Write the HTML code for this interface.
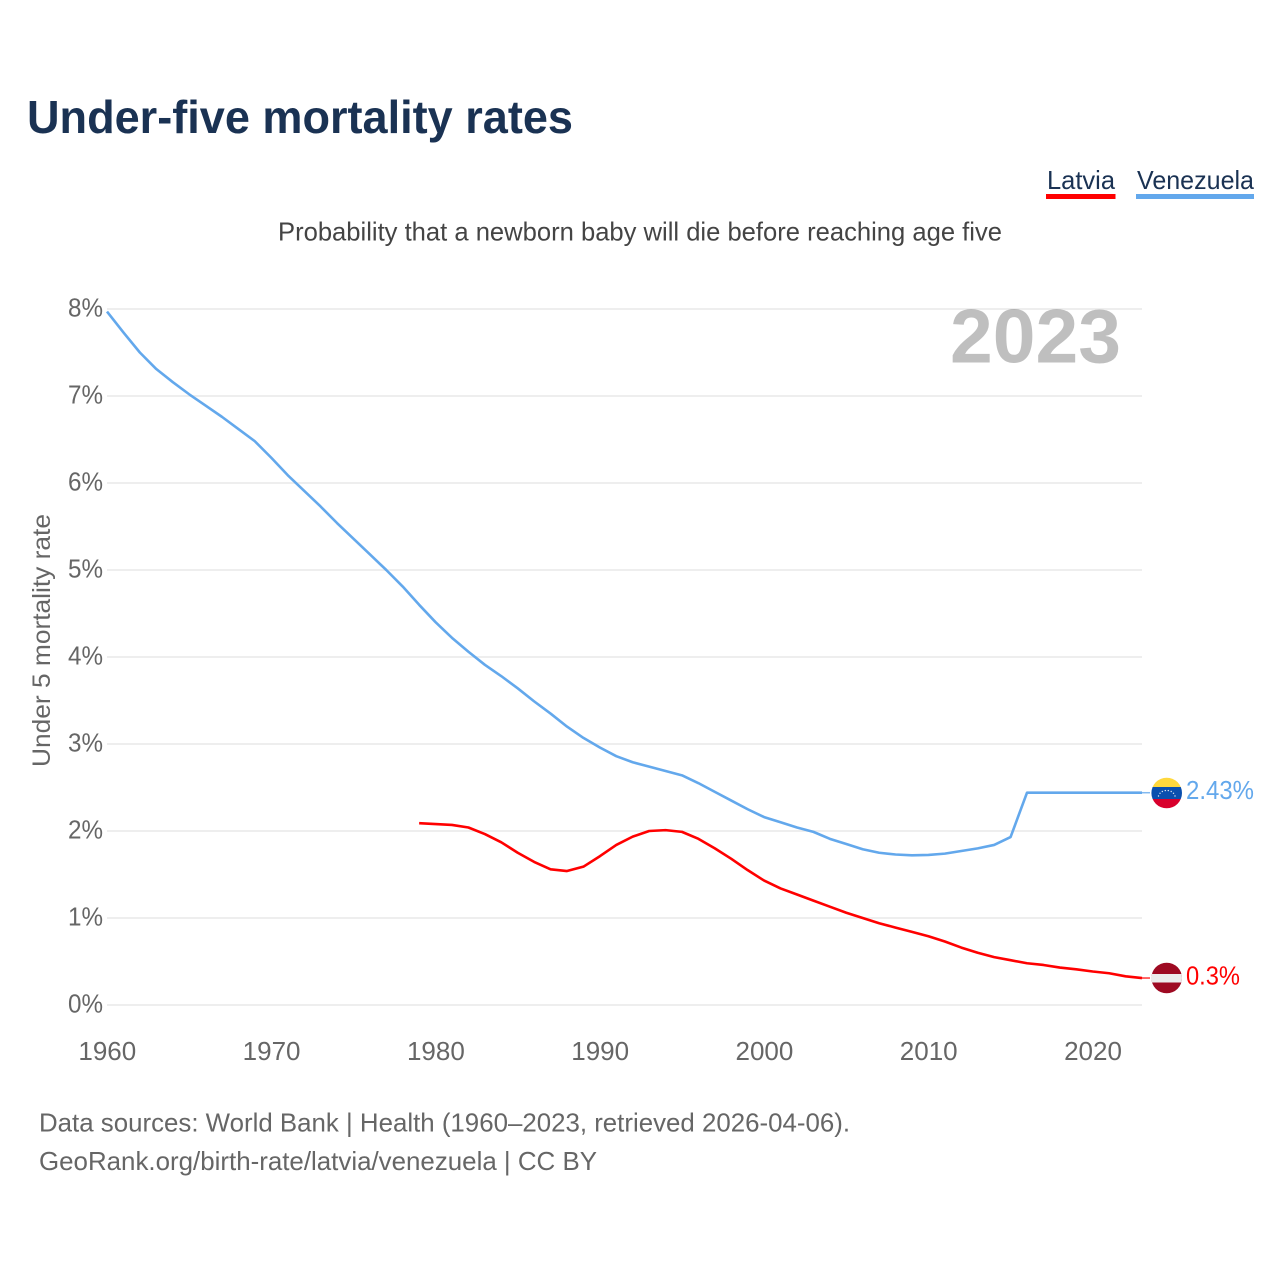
<!DOCTYPE html>
<html lang="en">
<head>
<meta charset="utf-8">
<title>Under-five mortality rates</title>
<style>
html,body{margin:0;padding:0;background:#fff;}
svg{display:block;font-family:"Liberation Sans",sans-serif;}
</style>
</head>
<body>
<svg id="chart" width="1280" height="1280" viewBox="0 0 1280 1280" xmlns="http://www.w3.org/2000/svg">
  <rect x="0" y="0" width="1280" height="1280" fill="#ffffff"/>
  <text x="27" y="133" font-size="46" font-weight="700" fill="#1a3253" textLength="546" lengthAdjust="spacingAndGlyphs">Under-five mortality rates</text>
  <text x="278" y="240.5" font-size="26" fill="#444444" textLength="724" lengthAdjust="spacingAndGlyphs">Probability that a newborn baby will die before reaching age five</text>

  <g>
    <g>
      <text x="1047" y="189" font-size="26" fill="#1a3253" textLength="68" lengthAdjust="spacingAndGlyphs">Latvia</text>
      <rect x="1046" y="194" width="69.5" height="5" fill="#ff0000"/>
    </g>
    <g>
      <text x="1137" y="189" font-size="26" fill="#1a3253" textLength="117" lengthAdjust="spacingAndGlyphs">Venezuela</text>
      <rect x="1136" y="194" width="118" height="5" fill="#63a8ec"/>
    </g>
  </g>

  <g id="grid"></g>
  <g id="yticks"></g>
  <g id="xticks"></g>

  <text transform="translate(50,767) rotate(-90)" x="0" y="0" font-size="25" fill="#666666" textLength="253" lengthAdjust="spacingAndGlyphs">Under 5 mortality rate</text>

  <text x="950" y="362.5" font-size="76" font-weight="700" fill="#000000" fill-opacity="0.25" textLength="171" lengthAdjust="spacingAndGlyphs">2023</text>

  <g id="series"></g>

  <defs>
    <clipPath id="clip-ve"><circle id="clip-ve-c" cx="1166.7" cy="793" r="15.3"/></clipPath>
    <clipPath id="clip-lv"><circle id="clip-lv-c" cx="1166.7" cy="978" r="15.3"/></clipPath>
  </defs>

  <g id="flag-ve" clip-path="url(#clip-ve)">
    <rect x="1150" y="776" width="34" height="11" fill="#ffd83d"/>
    <rect x="1150" y="787" width="34" height="12" fill="#0a4fae"/>
    <rect x="1150" y="799" width="34" height="11" fill="#d8002c"/>
    <g fill="#ffffff" fill-opacity="0.85">
      <circle cx="1158.5" cy="796" r="0.7"/><circle cx="1160" cy="793.3" r="0.7"/><circle cx="1162.3" cy="791.5" r="0.7"/><circle cx="1165.3" cy="790.6" r="0.7"/><circle cx="1168.3" cy="790.6" r="0.7"/><circle cx="1171.2" cy="791.5" r="0.7"/><circle cx="1173.5" cy="793.3" r="0.7"/><circle cx="1175" cy="796" r="0.7"/>
    </g>
  </g>
  <g id="flag-lv" clip-path="url(#clip-lv)">
    <rect x="1150" y="961" width="34" height="34" fill="#9e0a22"/>
    <rect x="1150" y="974" width="34" height="8.5" fill="#ececec"/>
  </g>

  <g id="endlabels"></g>

  <text x="39" y="1131.5" font-size="26" fill="#666666" textLength="811" lengthAdjust="spacingAndGlyphs">Data sources: World Bank | Health (1960–2023, retrieved 2026-04-06).</text>
  <text x="39" y="1170" font-size="26" fill="#666666" textLength="558" lengthAdjust="spacingAndGlyphs">GeoRank.org/birth-rate/latvia/venezuela | CC BY</text>
</svg>
<script>
const yTickValues = [0, 1, 2, 3, 4, 5, 6, 7, 8];
const yTickLabels = ['0%', '1%', '2%', '3%', '4%', '5%', '6%', '7%', '8%'];
const xTickYears = [1960, 1970, 1980, 1990, 2000, 2010, 2020];
const xTickLabels = ['1960', '1970', '1980', '1990', '2000', '2010', '2020'];
const latviaStartYear = 1979;
const latviaValues = [2.09, 2.08, 2.07, 2.04, 1.965, 1.87, 1.75, 1.645, 1.56, 1.54, 1.59, 1.71, 1.84, 1.935, 2.0, 2.01, 1.99, 1.91, 1.8, 1.68, 1.55, 1.43, 1.34, 1.27, 1.2, 1.13, 1.06, 1.0, 0.94, 0.89, 0.84, 0.79, 0.73, 0.66, 0.6, 0.55, 0.515, 0.48, 0.46, 0.43, 0.41, 0.385, 0.365, 0.33, 0.31];
const venezuelaStartYear = 1960;
const venezuelaValues = [7.97, 7.73, 7.5, 7.31, 7.16, 7.02, 6.89, 6.76, 6.62, 6.48, 6.29, 6.09, 5.91, 5.73, 5.54, 5.36, 5.18, 5.0, 4.81, 4.6, 4.4, 4.22, 4.06, 3.91, 3.78, 3.64, 3.49, 3.35, 3.2, 3.07, 2.96, 2.86, 2.79, 2.74, 2.69, 2.64, 2.55, 2.45, 2.35, 2.25, 2.16, 2.1, 2.04, 1.99, 1.91, 1.85, 1.79, 1.75, 1.73, 1.72, 1.725, 1.74, 1.77, 1.8, 1.84, 1.93, 2.44, 2.44, 2.44, 2.44, 2.44, 2.44, 2.44, 2.44];
const latestLabels = ['0.3%', '2.43%'];

const NS = 'http://www.w3.org/2000/svg';
const PLOT_LEFT = 107, PLOT_RIGHT = 1142, PLOT_BOTTOM = 1005, PLOT_TOP = 309;
const YEAR_MIN = 1960, YEAR_MAX = 2023, VALUE_MAX = 8;
function xScale(year) {
  return PLOT_LEFT + (year - YEAR_MIN) / (YEAR_MAX - YEAR_MIN) * (PLOT_RIGHT - PLOT_LEFT);
}
function yScale(value) {
  return PLOT_BOTTOM - value / VALUE_MAX * (PLOT_BOTTOM - PLOT_TOP);
}
function make(tag, attrs, parent, text) {
  const el = document.createElementNS(NS, tag);
  for (const k in attrs) el.setAttribute(k, attrs[k]);
  if (text !== undefined) el.textContent = text;
  parent.appendChild(el);
  return el;
}

const gridGroup = document.getElementById('grid');
const yGroup = document.getElementById('yticks');
yTickValues.forEach(function (v, i) {
  const line = make('line', {x1: PLOT_LEFT, x2: PLOT_RIGHT, y1: yScale(v), y2: yScale(v), stroke: '#eeeeee', 'stroke-width': 2}, gridGroup);
  
  
  const label = make('text', {x: 68, y: yScale(v) + 7.5, 'font-size': 25.5, fill: '#666666', textLength: 35, lengthAdjust: 'spacingAndGlyphs'}, yGroup, yTickLabels[i]);
  
  
});

const xGroup = document.getElementById('xticks');
xTickYears.forEach(function (year, i) {
  const label = make('text', {x: xScale(year) + 0.3, y: 1060, 'font-size': 26, fill: '#666666', 'text-anchor': 'middle'}, xGroup, xTickLabels[i]);
  
  
});

function linePoints(startYear, values) {
  return values.map(function (v, i) {
    return xScale(startYear + i).toFixed(2) + ',' + yScale(v).toFixed(2);
  }).join(' ');
}
const seriesGroup = document.getElementById('series');

const venezuelaLine = make('polyline', {points: linePoints(venezuelaStartYear, venezuelaValues), fill: 'none', stroke: '#63a8ec', 'stroke-width': 2.6, 'stroke-linejoin': 'round'}, seriesGroup);



const latviaLine = make('polyline', {points: linePoints(latviaStartYear, latviaValues), fill: 'none', stroke: '#ff0000', 'stroke-width': 2.6, 'stroke-linejoin': 'round'}, seriesGroup);



const latviaLast = latviaValues[latviaValues.length - 1];
const venezuelaLast = venezuelaValues[venezuelaValues.length - 1];

const venezuelaLead = make('line', {x1: PLOT_RIGHT, x2: 1150, y1: yScale(venezuelaLast), y2: yScale(venezuelaLast), stroke: '#63a8ec', 'stroke-width': 1.5, 'stroke-opacity': 0.8}, seriesGroup);



const latviaLead = make('line', {x1: PLOT_RIGHT, x2: 1150, y1: yScale(latviaLast), y2: yScale(latviaLast), stroke: '#ff0000', 'stroke-width': 1.5, 'stroke-opacity': 0.8}, seriesGroup);



const labelGroup = document.getElementById('endlabels');
const latviaLabel = make('text', {x: 1186, y: yScale(latviaLast) + 6.5, 'font-size': 25.5, fill: '#ff0000', textLength: 54, lengthAdjust: 'spacingAndGlyphs'}, labelGroup, latestLabels[0]);



const venezuelaLabel = make('text', {x: 1186, y: yScale(venezuelaLast) + 6.5, 'font-size': 25.5, fill: '#63a8ec', textLength: 68, lengthAdjust: 'spacingAndGlyphs'}, labelGroup, latestLabels[1]);


</script>
</body>
</html>
